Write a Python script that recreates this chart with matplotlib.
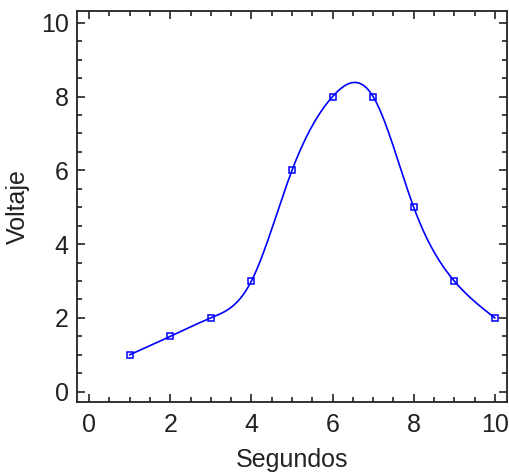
import numpy as np
import matplotlib
matplotlib.use("Agg")
import matplotlib.pyplot as plt
from matplotlib.ticker import MultipleLocator

segundos = [1, 2, 3, 4, 5, 6, 7, 8, 9, 10]
voltaje = [1.0, 1.5, 2.0, 3.0, 6.0, 8.0, 8.0, 5.0, 3.0, 2.0]
x_ticks = [0, 2, 4, 6, 8, 10]
y_ticks = [0, 2, 4, 6, 8, 10]


def natural_spline(x, y, xs):
    x = np.asarray(x, float)
    y = np.asarray(y, float)
    n = len(x)
    h = np.diff(x)
    A = np.zeros((n, n))
    b = np.zeros(n)
    A[0, 0] = 1
    A[-1, -1] = 1
    for i in range(1, n - 1):
        A[i, i - 1] = h[i - 1]
        A[i, i] = 2 * (h[i - 1] + h[i])
        A[i, i + 1] = h[i]
        b[i] = 3 * ((y[i + 1] - y[i]) / h[i] - (y[i] - y[i - 1]) / h[i - 1])
    c = np.linalg.solve(A, b)
    out = np.empty_like(xs)
    for k, xv in enumerate(xs):
        i = min(max(np.searchsorted(x, xv) - 1, 0), n - 2)
        dx = xv - x[i]
        bi = (y[i + 1] - y[i]) / h[i] - h[i] * (2 * c[i] + c[i + 1]) / 3
        di = (c[i + 1] - c[i]) / (3 * h[i])
        out[k] = y[i] + bi * dx + c[i] * dx ** 2 + di * dx ** 3
    return out


plt.rcParams['font.family'] = ['Liberation Sans', 'DejaVu Sans']

fig = plt.figure(figsize=(5.09, 4.73), dpi=100)
ax = fig.add_axes([77 / 509, 1 - 402 / 473, 430 / 509, 391 / 473])

xs = np.linspace(min(segundos), max(segundos), 400)
ys = natural_spline(segundos, voltaje, xs)
ax.plot(xs, ys, color='#0000ff', lw=1.2)
ax.plot(segundos, voltaje, linestyle='none', marker='s', markersize=5,
        markerfacecolor='none', markeredgecolor='#0000ff', markeredgewidth=1.1)

ax.set_xlim(-0.3, 10.3)
ax.set_ylim(-0.28, 10.32)
ax.set_xticks(x_ticks)
ax.set_yticks(y_ticks)
ax.xaxis.set_minor_locator(MultipleLocator(0.5))
ax.yaxis.set_minor_locator(MultipleLocator(0.5))
ax.tick_params(which='both', direction='in', top=True, right=True,
               labelsize=18, width=1.2, colors='#222222', labelcolor='#222222')
ax.tick_params(which='major', length=6)
ax.tick_params(axis='x', which='major', pad=8)
ax.tick_params(axis='y', which='major', pad=6)
ax.tick_params(which='minor', length=3.5)
for s in ax.spines.values():
    s.set_linewidth(1.3)
    s.set_color('#222222')

ax.set_xlabel('Segundos', fontsize=18, color='#222222', labelpad=8)
ax.set_ylabel('Voltaje', fontsize=18, color='#222222', labelpad=8)

fig.savefig('out.png', dpi=100)
